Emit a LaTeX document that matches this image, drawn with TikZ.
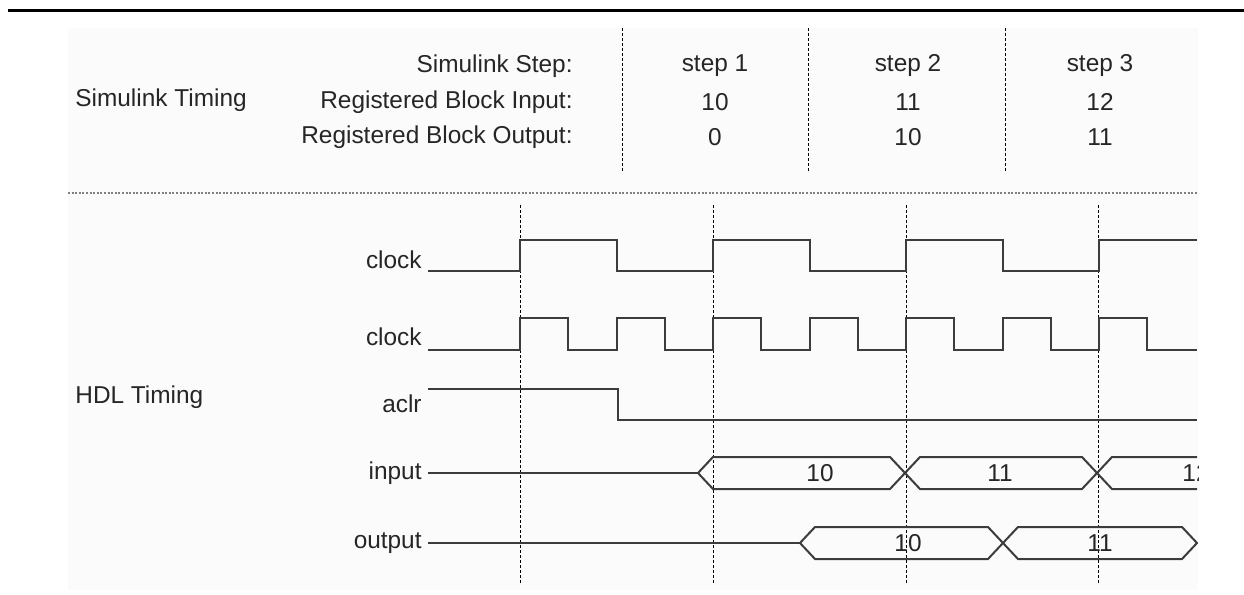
\documentclass[tikz,border=0pt]{standalone}
\usepackage{fontspec}
\setmainfont{Liberation Sans}
\usetikzlibrary{positioning}
\definecolor{sigGray}{HTML}{3C3C3C}
\definecolor{textGray}{HTML}{262626}
\definecolor{paneGray}{HTML}{FBFBFB}

\begin{document}
\begin{tikzpicture}[
  x=0.5pt, y=-0.5pt,
  every node/.style={font={\fontsize{12.2}{14}\selectfont}, text=textGray, inner sep=0pt},
  rowlabel/.style={anchor=east},
  sectitle/.style={anchor=west},
  siglabel/.style={anchor=east},
  busvalue/.style={anchor=center},
  wave/.style={draw=sigGray, line width=1pt, line join=miter},
  guide/.style={draw=black, line width=0.5pt, dash pattern=on 1.5pt off 1pt},
  divider/.style={draw=gray, line width=0.7pt, dash pattern=on 1pt off 0.8pt},
]
\useasboundingbox (0,0) rectangle (1244,595);

% === FRAME ===
\draw[line width=1.5pt] (8,10) -- (1244,10);
\fill[paneGray] (68,28) rectangle (1198,590);

% === SIMULINK TIMING (TOP) ===
\node[sectitle] (simTitle) at (75,100) {Simulink Timing};
\node[rowlabel] (stepLbl) at (573,66) {Simulink Step:};
\node[rowlabel] (inLbl) at (573,102) {Registered Block Input:};
\node[rowlabel] (outLbl) at (573,137) {Registered Block Output:};

\foreach \x in {622,808,1005}
  \draw[guide] (\x,28) -- (\x,173);

\node (step1) at (715,66) {step 1};
\node (in1) at (715,102) {10};
\node (out1) at (715,137) {0};
\node (step2) at (908,66) {step 2};
\node (in2) at (908,102) {11};
\node (out2) at (908,137) {10};
\node (step3) at (1100,66) {step 3};
\node (in3) at (1100,102) {12};
\node (out3) at (1100,137) {11};

\draw[divider] (68,193) -- (1198,193);

% === HDL TIMING (BOTTOM) ===
\node[sectitle] (hdlTitle) at (75,397) {HDL Timing};

\foreach \x in {520,713,906,1098}
  \draw[guide] (\x,205) -- (\x,583);

\node[siglabel] (clkA) at (422,260) {clock};
\node[siglabel] (clkB) at (422,337) {clock};
\node[siglabel] (aclr) at (422,404) {aclr};
\node[siglabel] (inSig) at (422,473) {input};
\node[siglabel] (outSig) at (422,543) {output};

% clock (one per step)
\draw[wave] (428,271) -| (520,240) -| (616.5,271) -| (713,240) -| (809.5,271)
  -| (906,240) -| (1002.5,271) -| (1099,240) -- (1197,240);

% clock (twice per step)
\draw[wave] (428,350) foreach \k in {0,...,6} {
  -| ({520+96.5*\k},318) -| ({568.25+96.5*\k},350) } -- (1197,350);

% aclr
\draw[wave] (428,389) -| (618,420) -- (1197,420);

% input bus
\draw[wave] ([xshift=3]inSig.east) -- (698,473);
\draw[wave] (698,473) -- (713,457) -- (890,457) -- (920,489) -- (1082,489) -- (1112,457) -- (1197,457);
\draw[wave] (698,473) -- (713,489) -- (890,489) -- (920,457) -- (1082,457) -- (1112,489) -- (1197,489);
\node[busvalue] (inV1) at (820,473) {10};
\node[busvalue] (inV2) at (1000,473) {11};
\begin{scope}
  \clip (1100,440) rectangle (1198,500);
  \node[busvalue] (inV3) at (1196,473) {12};
\end{scope}

% output bus
\draw[wave] ([xshift=3]outSig.east) -- (800,543);
\draw[wave] (800,543) -- (815,527) -- (988,527) -- (1018,559) -- (1182,559) -- (1197,543)
  -- (1182,527) -- (1018,527) -- (988,559) -- (815,559) -- cycle;
\node[busvalue] (outV1) at (908,543) {10};
\node[busvalue] (outV2) at (1100,543) {11};

\end{tikzpicture}
\end{document}
